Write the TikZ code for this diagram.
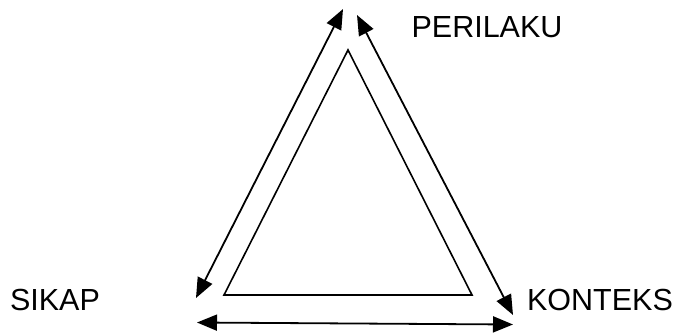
\documentclass[tikz,border=0pt]{standalone}
\usepackage{fontspec}
\setmainfont{Liberation Sans}
\usetikzlibrary{arrows.meta}
\begin{document}
\begin{tikzpicture}[x=1pt,y=-1pt,
  lbl/.style={inner sep=0pt, font=\fontsize{30.5}{36}\selectfont},
  dbl/.style={line width=1.8pt, {Triangle[length=20pt,width=16pt]}-{Triangle[length=20pt,width=16pt]}},
  tri/.style={line width=1.6pt, line join=miter}]
\useasboundingbox (0,0) rectangle (674,333);
\node[lbl] (perilaku) at (487,27) {PERILAKU};
\node[lbl] (sikap) at (55,299.5) {SIKAP};
\node[lbl] (konteks) at (600,299.5) {KONTEKS};
\coordinate (apex) at (348,50);
\coordinate (bl) at (224,295);
\coordinate (br) at (472,295);
\draw[tri] (apex) -- (bl) -- (br) -- cycle;
\coordinate (lt) at (343,9);
\coordinate (lb) at (196,298);
\coordinate (rt) at (357,15);
\coordinate (rb) at (513,315);
\coordinate (bL) at (197,322.5);
\coordinate (bR) at (513,324.5);
\draw[dbl] (lb) -- (lt);
\draw[dbl] (rt) -- (rb);
\draw[dbl] (bL) -- (bR);
\end{tikzpicture}
\end{document}
